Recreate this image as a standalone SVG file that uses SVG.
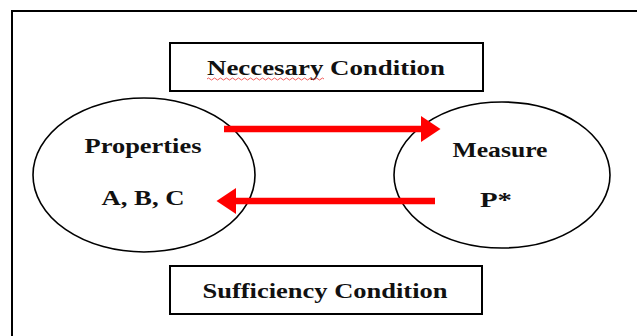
<svg xmlns="http://www.w3.org/2000/svg" width="637" height="336" viewBox="0 0 637 336">
<style>
.lbl{font-family:"Liberation Serif","Times New Roman",serif;font-weight:bold;font-size:22px;fill:#111;text-anchor:middle}
.box{fill:#fff;stroke:#000;stroke-width:2}
.ell{fill:#fff;stroke:#000;stroke-width:1.6}
.arr{stroke:#ff0000;stroke-width:6.5;fill:none}
</style>
<defs>
<marker id="ah" markerWidth="4" markerHeight="4" refX="0" refY="2" orient="auto" markerUnits="strokeWidth">
<path d="M0,0 L3,2 L0,4 Z" fill="#ff0000"/>
</marker>
</defs>
<rect width="637" height="336" fill="#fff"/>
<rect id="frame" x="12" y="11" width="640" height="340" fill="none" stroke="#000" stroke-width="2"/>
<g id="necessary">
<rect class="box" x="170" y="43" width="313" height="48"/>
<text class="lbl" x="326" y="75" textLength="238" lengthAdjust="spacingAndGlyphs">Neccesary Condition</text>
<path d="M207,79 q1.5,-2 3,0 t3,0 t3,0 t3,0 t3,0 t3,0 t3,0 t3,0 t3,0 t3,0 t3,0 t3,0 t3,0 t3,0 t3,0 t3,0 t3,0 t3,0 t3,0 t3,0 t3,0 t3,0 t3,0 t3,0 t3,0 t3,0 t3,0 t3,0 t3,0 t3,0 t3,0 t3,0 t3,0 t3,0 t3,0 t3,0 t3,0 t3,0 t3,0" fill="none" stroke="#e33" stroke-width="0.8"/>
</g>
<g id="sufficiency">
<rect class="box" x="170" y="266" width="312" height="48"/>
<text class="lbl" x="325" y="298" textLength="245" lengthAdjust="spacingAndGlyphs">Sufficiency Condition</text>
</g>
<g id="properties">
<ellipse class="ell" cx="144" cy="175" rx="111" ry="77"/>
<text class="lbl" x="143" y="153" textLength="117" lengthAdjust="spacingAndGlyphs">Properties</text>
<text class="lbl" x="143" y="205" textLength="83" lengthAdjust="spacingAndGlyphs">A, B, C</text>
</g>
<g id="measure">
<ellipse class="ell" cx="502" cy="175" rx="108" ry="73"/>
<text class="lbl" x="500" y="157" textLength="95" lengthAdjust="spacingAndGlyphs">Measure</text>
<text class="lbl" x="496" y="207" textLength="32" lengthAdjust="spacingAndGlyphs">P*</text>
</g>
<g id="connectors">
<line class="arr" x1="224" y1="129" x2="421" y2="129" marker-end="url(#ah)"/>
<line class="arr" x1="435" y1="201" x2="236" y2="201" marker-end="url(#ah)"/>
</g>
</svg>
